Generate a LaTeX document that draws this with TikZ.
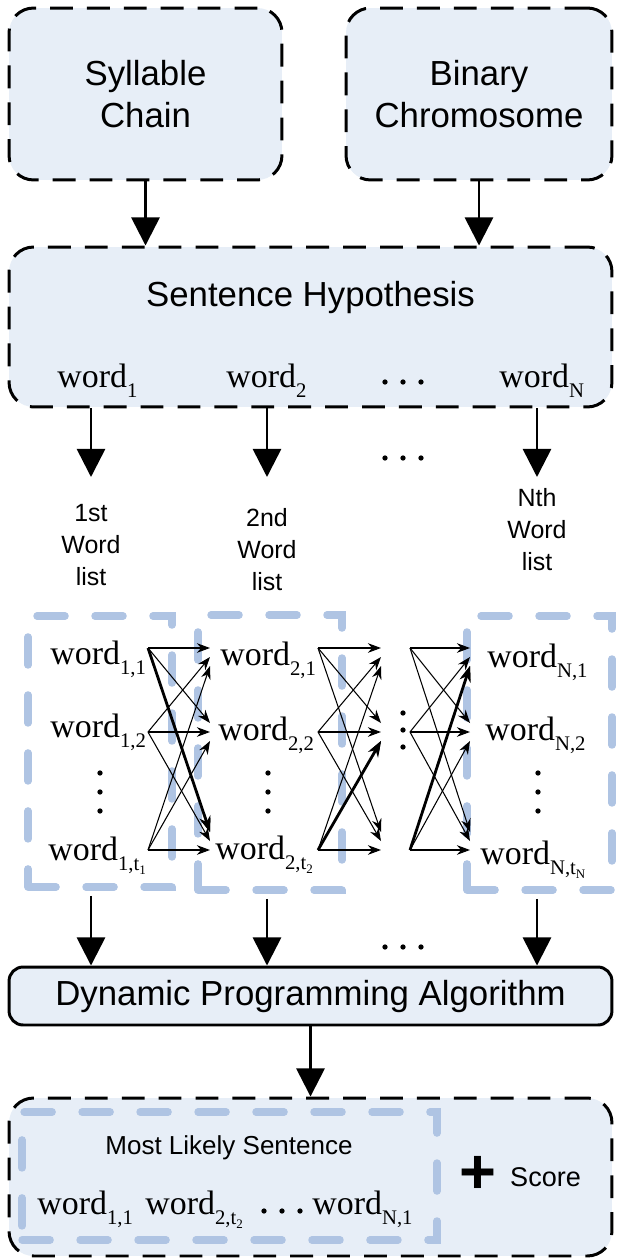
\documentclass[tikz,border=0pt]{standalone}
\usepackage{fontspec}
\setmainfont{Liberation Serif}
\setsansfont{Liberation Sans}
\usetikzlibrary{arrows.meta,calc}

\definecolor{boxfill}{HTML}{E7EEF7}
\definecolor{listblue}{HTML}{AFC4E3}

% word with an index, and an index of an index
\newcommand{\wrd}[1]{word\raisebox{-6pt}{\fontsize{11.8}{13}\selectfont #1}}
\newcommand{\tsub}[1]{t\raisebox{-2.5pt}{\fontsize{7.4}{8}\selectfont #1}}

\tikzset{
    hypbox/.style={draw=black, fill=boxfill, line width=1.7pt, dash pattern=on 13pt off 8pt, rounded corners=14pt},
    algbox/.style={draw=black, fill=boxfill, line width=1.7pt, rounded corners=8pt},
    listbox/.style={draw=listblue, line width=4.2pt, line cap=round, dash pattern=on 16pt off 17pt},
    flow/.style={line width=1.5pt, -{Triangle[length=16pt,width=16pt]}},
    link/.style={line width=0.6pt, -{Stealth[length=7.5pt,width=5.5pt]}},
    best/.style={line width=1.6pt, -{Stealth[length=9pt,width=6.5pt]}},
    bigtext/.style={font=\sffamily\fontsize{19.8}{23.9}\selectfont, align=center},
    smalltext/.style={font=\sffamily\fontsize{14.2}{18.2}\selectfont, align=center},
    wordtext/.style={font=\fontsize{19.3}{22}\selectfont, inner sep=0pt, anchor=base west},
}

\begin{document}
\begin{tikzpicture}[x=0.02cm, y=-0.02cm]
    \useasboundingbox (0,0) rectangle (616,1260);

    % Inputs
    \node[hypbox, bigtext, minimum width=5.46cm, minimum height=3.44cm] (syl) at (145.5,94) {Syllable\\Chain};
    \node[hypbox, bigtext, minimum width=5.32cm, minimum height=3.44cm] (bin) at (479,94) {Binary\\Chromosome};

    % Sentence hypothesis
    \node[hypbox, minimum width=12.06cm, minimum height=3.2cm] (hyp) at (310.5,327) {};
    \node[bigtext] (hyptitle) at (310.5,298) {Sentence Hypothesis};
    \node[wordtext] (h1) at (57,387) {\wrd{1}};
    \node[wordtext] (h2) at (226,387) {\wrd{2}};
    \node[wordtext] (hN) at (499,387) {\wrd{N}};
    \foreach \x in {385,403,421} \fill (\x,382) circle (1.5pt);

    \draw[flow] (syl.south) -- (syl.south |- hyp.north);
    \draw[flow] (bin.south) -- (bin.south |- hyp.north);

    % One word list per word
    \coordinate (e1) at (91,477);
    \coordinate (e2) at (267,477);
    \coordinate (eN) at (537,477);
    \draw[flow] (e1 |- hyp.south) -- (e1);
    \draw[flow] (e2 |- hyp.south) -- (e2);
    \draw[flow] (eN |- hyp.south) -- (eN);
    \foreach \x in {385,403,421} \fill (\x,458) circle (1.5pt);
    \node[smalltext] (l1) at (91,545) {1st\\Word\\list};
    \node[smalltext] (l2) at (267,550) {2nd\\Word\\list};
    \node[smalltext] (lN) at (537,530) {Nth\\Word\\list};

    % Candidate words
    \node[listbox, minimum width=2.88cm, minimum height=5.42cm] (g1) at (100,751.5) {};
    \node[listbox, minimum width=2.88cm, minimum height=5.5cm] (g2) at (270,752.5) {};
    \node[listbox, minimum width=2.9cm, minimum height=5.48cm] (gN) at (539.5,753) {};

    \node[wordtext] (w11) at (50,664) {\wrd{1,1}};
    \node[wordtext] (w12) at (50,737) {\wrd{1,2}};
    \node[wordtext] (w1t) at (48,860) {\wrd{1,\tsub{1}}};
    \node[wordtext] (w21) at (220,665) {\wrd{2,1}};
    \node[wordtext] (w22) at (218,740) {\wrd{2,2}};
    \node[wordtext] (w2t) at (215,859) {\wrd{2,\tsub{2}}};
    \node[wordtext] (wN1) at (487,667) {\wrd{N,1}};
    \node[wordtext] (wN2) at (485,740) {\wrd{N,2}};
    \node[wordtext] (wNt) at (480,864) {\wrd{N,\tsub{N}}};
    \foreach \x in {100,268,538}
        \foreach \y in {773,792,811} \fill (\x,\y) circle (1.5pt);
    \foreach \y in {713,730,747} \fill (403,\y) circle (1.5pt);

    % Links between neighbouring lists
    \foreach \r/\y in {1/648,2/732,3/850} {
        \coordinate (a\r) at (148,\y);
        \coordinate (b\r) at (318,\y);
        \coordinate (c\r) at (410,\y);
        \coordinate (p\r) at (210,\y);
        \coordinate (q\r) at (381,\y);
        \coordinate (s\r) at (470,\y);
    }
    \foreach \i in {1,2,3}
        \foreach \j in {1,2,3} {
            \draw[link] (a\i) -- ($(p\j)+(0,{9*(\i-\j)})$);
            \draw[link] (b\i) -- ($(q\j)+(0,{9*(\i-\j)})$);
            \draw[link] (c\i) -- ($(s\j)+(0,{9*(\i-\j)})$);
        }
    \draw[best] (a1) -- ($(p3)+(0,-18)$);
    \draw[best] (b3) -- ($(q2)+(0,9)$);
    \draw[best] (c3) -- ($(s1)+(0,18)$);

    % Dynamic programming
    \node[algbox, bigtext, minimum width=12.06cm, minimum height=1.16cm] (dp) at (310.5,996) {Dynamic Programming Algorithm};
    \draw[flow, shorten <=3pt] (e1 |- g1.south) -- (e1 |- dp.north);
    \draw[flow, shorten <=3pt] (e2 |- g2.south) -- (e2 |- dp.north);
    \draw[flow, shorten <=3pt] (eN |- gN.south) -- (eN |- dp.north);
    \foreach \x in {385,403,421} \fill (\x,947) circle (1.5pt);

    % Result
    \node[hypbox, minimum width=12.06cm, minimum height=3.16cm] (res) at (310.5,1177) {};
    \draw[flow] (dp.south) -- (dp.south |- res.north);
    \node[listbox, minimum width=8.3cm, minimum height=2.56cm] (mls) at (229.5,1176) {};
    \node[font=\sffamily\fontsize{14.8}{17}\selectfont] (mlstitle) at (229,1148) {Most Likely Sentence};
    \node[wordtext] (m1) at (37,1214) {\wrd{1,1}};
    \node[wordtext] (m2) at (145,1214) {\wrd{2,\tsub{2}}};
    \node[wordtext] (mN) at (312,1214) {\wrd{N,1}};
    \foreach \x in {264,282,300} \fill (\x,1211) circle (1.5pt);
    \node[font=\sffamily\bfseries\fontsize{36}{40}\selectfont] (plus) at (478,1175) {+};
    \node[font=\sffamily\fontsize{15.4}{18}\selectfont, anchor=west] (score) at (504,1177) {Score};

\end{tikzpicture}
\end{document}
